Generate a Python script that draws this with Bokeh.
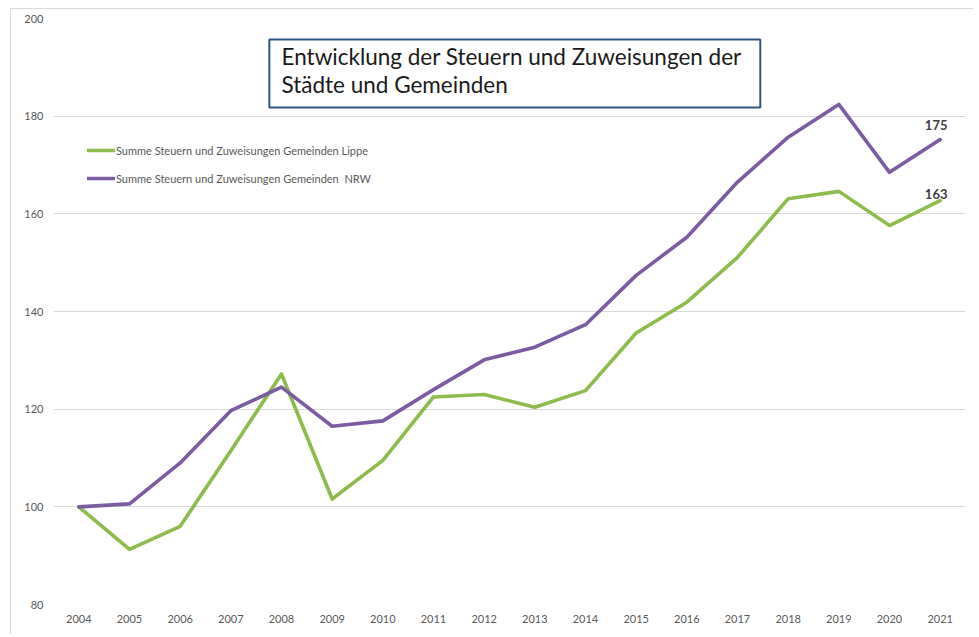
from bokeh.plotting import figure
from bokeh.models import (Range1d, FixedTicker, Legend, LegendItem, BoxAnnotation, Label,
                          ColumnDataSource)
from bokeh.core.properties import value
from bokeh.embed import file_html
from bokeh.resources import INLINE

# ---- data ----
years = [2004, 2005, 2006, 2007, 2008, 2009, 2010, 2011, 2012, 2013,
         2014, 2015, 2016, 2017, 2018, 2019, 2020, 2021]
lippe = [100.0, 91.3, 96.0, 111.5, 127.2, 101.6, 109.5, 122.5, 123.0, 120.4,
         123.8, 135.6, 141.9, 151.1, 163.1, 164.6, 157.6, 162.7]
nrw = [100.0, 100.6, 109.0, 119.7, 124.5, 116.5, 117.6, 124.0, 130.1, 132.7,
       137.3, 147.4, 155.2, 166.5, 175.7, 182.4, 168.5, 175.2]
y_ticks = [80, 100, 120, 140, 160, 180, 200]
label_lippe = "Summe Steuern und Zuweisungen Gemeinden Lippe"
label_nrw = "Summe Steuern und Zuweisungen Gemeinden  NRW"
title_lines = ["Entwicklung der Steuern und Zuweisungen der", "Städte und Gemeinden"]

GREEN = "#8dbb4e"
PURPLE = "#7b5ca3"
TXT = "#595959"
FONT = "Lato"

p = figure(width=963, height=626, output_backend="svg", toolbar_location=None,
           x_range=Range1d(2003.5, 2021.5), y_range=Range1d(80, 200),
           min_border_left=42, min_border_right=9, min_border_top=9, min_border_bottom=31)
p.styles = {"border-left": "1px solid #d9d9d9", "border-top": "1px solid #d9d9d9",
            "margin-left": "10px", "margin-top": "8px"}
p.outline_line_color = None
p.background_fill_color = "white"
p.border_fill_color = "white"

p.xgrid.grid_line_color = None
p.ygrid.grid_line_color = "#d9d9d9"
p.ygrid.grid_line_width = 1
p.ygrid.ticker = FixedTicker(ticks=y_ticks)

p.xaxis.ticker = FixedTicker(ticks=years)
p.yaxis.ticker = FixedTicker(ticks=y_ticks)
for ax in (p.xaxis, p.yaxis):
    ax.axis_line_color = None
    ax.major_tick_line_color = None
    ax.minor_tick_line_color = None
    ax.major_tick_out = 0
    ax.major_tick_in = 0
    ax.major_label_text_color = TXT
    ax.major_label_text_font = FONT
    ax.major_label_text_font_size = "11px"
p.xaxis.major_label_standoff = 10
p.yaxis.major_label_standoff = 10

src = ColumnDataSource(dict(x=years, lippe=lippe, nrw=nrw))
r_lippe = p.line("x", "lippe", source=src, line_color=GREEN, line_width=3.6,
                 line_join="round", line_cap="round")
r_nrw = p.line("x", "nrw", source=src, line_color=PURPLE, line_width=3.6,
               line_join="round", line_cap="round")

# end labels
last = len(years) - 1
p.text(x=[years[last]], y=[nrw[last]], text=[f"{round(nrw[last])}"],
       text_font=value(FONT), text_font_size="13px", text_font_style="bold",
       text_color="#404040", text_align="center", text_baseline="alphabetic",
       x_offset=-4, y_offset=-15)
p.text(x=[years[last]], y=[lippe[last]], text=[f"{round(lippe[last])}"],
       text_font=value(FONT), text_font_size="13px", text_font_style="bold",
       text_color="#404040", text_align="center", text_baseline="alphabetic",
       x_offset=-4, y_offset=-7)

legend = Legend(items=[LegendItem(label=label_lippe, renderers=[r_lippe]),
                       LegendItem(label=label_nrw, renderers=[r_nrw])],
                location=(34, 416), glyph_width=28, glyph_height=20, label_height=20,
                spacing=8, padding=0, margin=0, label_standoff=1,
                border_line_color=None, background_fill_alpha=0,
                label_text_font=FONT, label_text_font_size="11px",
                label_text_color=TXT)
p.add_layout(legend)

# title box
p.add_layout(BoxAnnotation(left=2007.76, right=2017.45, bottom=181.8, top=195.7,
                           fill_color="white", fill_alpha=1,
                           line_color="#2f5584", line_alpha=1, line_width=2))
p.add_layout(Label(x=2008.0, y=190.38, y_offset=9, text=title_lines[0], text_font=FONT,
                   text_font_size="22.5px", text_color="#1a1a1a",
                   text_baseline="alphabetic"))
p.add_layout(Label(x=2008.0, y=184.65, y_offset=9, text=title_lines[1], text_font=FONT,
                   text_font_size="22.5px", text_color="#1a1a1a",
                   text_baseline="alphabetic"))

open("out.html", "w").write(file_html(p, INLINE))
